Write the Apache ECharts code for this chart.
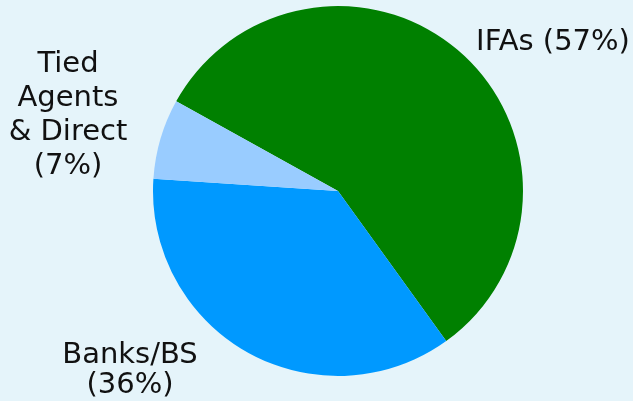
<!DOCTYPE html>
<html>
<head>
<meta charset="utf-8">
<script src="https://cdn.jsdelivr.net/npm/echarts@6/dist/echarts.min.js"></script>
<style>
  html, body { margin: 0; padding: 0; background: #E5F4FA; }
  #chart { width: 633px; height: 401px; }
</style>
</head>
<body>
<div id="chart"></div>
<script>
// Distribution channel shares (%)
const channels = ['IFAs', 'Banks/BS', 'Tied Agents & Direct'];
const shares = [57, 36, 7];
const labelTexts = ['IFAs (57%)', 'Banks/BS\n(36%)', 'Tied\nAgents\n& Direct\n(7%)'];
const sliceColors = ['#008000', '#0099FF', '#99CCFF'];

// Where each label sits on the canvas
const labelSpots = [
  { x: 553, y: 42, lh: 34 },
  { x: 130, y: 370, lh: 30 },
  { x: 68, y: 115, lh: 34 }
];

const chart = echarts.init(document.getElementById('chart'), null, { renderer: 'canvas' });

chart.setOption({
  backgroundColor: '#E5F4FA',
  animation: false,
  series: [{
    type: 'pie',
    center: [338, 191],
    radius: 185,
    startAngle: 151,
    clockwise: true,
    data: channels.map((name, i) => ({
      name: name,
      value: shares[i],
      itemStyle: { color: sliceColors[i] },
      label: { formatter: labelTexts[i], lineHeight: labelSpots[i].lh }
    })),
    label: {
      show: true,
      position: 'outside',
      color: '#111111',
      fontFamily: 'DejaVu Sans',
      fontSize: 29,
      align: 'center',
      overflow: 'none',
      width: 300
    },
    labelLine: { show: false },
    labelLayout: function (params) {
      const spot = labelSpots[params.dataIndex];
      return { x: spot.x, y: spot.y, align: 'center', verticalAlign: 'middle' };
    },
    emphasis: { disabled: true }
  }]
});
</script>
</body>
</html>
